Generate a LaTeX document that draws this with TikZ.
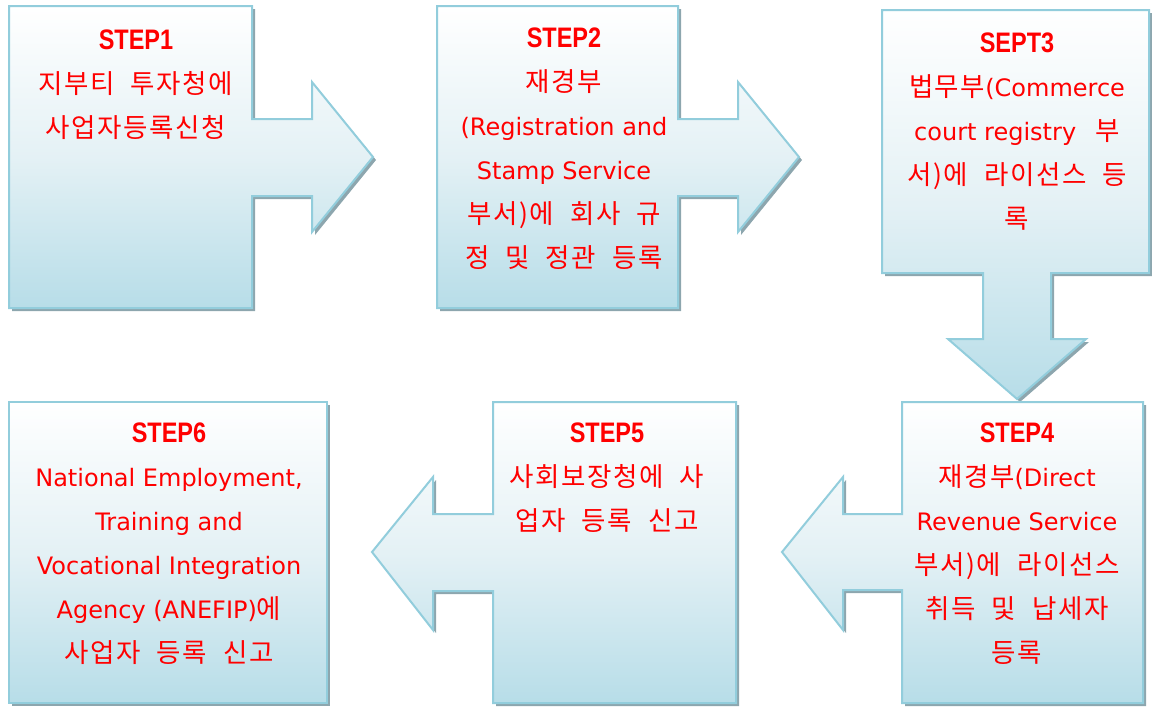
\documentclass[tikz,border=0pt]{standalone}
\usepackage{fontspec}
\setmainfont{DejaVu Sans}
\newfontfamily\krfont[LetterSpace=6]{Noto Sans CJK KR}
\newfontfamily\titlefam{Liberation Sans}
\definecolor{sbot}{HTML}{B7DDE8}
\definecolor{smid}{HTML}{E4F1F5}
\definecolor{bordc}{HTML}{92CDDC}
\definecolor{shadc}{HTML}{8DA6AE}
\newcommand\kr{\krfont\fontsize{26.5}{44}\selectfont\spaceskip=0.6em\relax}
\newcommand\ttl[1]{{\titlefam\bfseries\fontsize{23.5}{44}\selectfont\scalebox{1}[1.2]{#1}}}
\tikzset{
  stepshape/.style={draw=bordc, line width=2pt, top color=white, bottom color=sbot, middle color=smid, line join=miter},
  shadowshape/.style={fill=shadc, draw=none},
  steptext/.style={anchor=north, inner sep=0pt, align=center, text=red, font=\fontsize{24}{44}\selectfont},
}
\begin{document}
\begin{tikzpicture}[x=1pt,y=-1pt]
\useasboundingbox (0,0) rectangle (1152,707);
% shadows
\begin{scope}[shift={(3,3)}]
\fill[shadowshape] (9,6) -- (252,6) -- (252,119) -- (312,119) -- (312,82) -- (373,157) -- (312,232) -- (312,196) -- (252,196) -- (252,308) -- (9,308) -- cycle;
\fill[shadowshape] (437,6) -- (678,6) -- (678,119) -- (738,119) -- (738,82) -- (799,157) -- (738,232) -- (738,196) -- (678,196) -- (678,308) -- (437,308) -- cycle;
\fill[shadowshape] (882,10) -- (1149,10) -- (1149,273) -- (1051,273) -- (1051,339) -- (1086,339) -- (1017,399) -- (948,339) -- (983,339) -- (983,273) -- (882,273) -- cycle;
\fill[shadowshape] (902,402) -- (1143,402) -- (1143,703) -- (902,703) -- (902,590) -- (843,590) -- (843,630) -- (782,552) -- (843,477) -- (843,514) -- (902,514) -- cycle;
\fill[shadowshape] (493,402) -- (736,402) -- (736,703) -- (493,703) -- (493,591) -- (433,591) -- (433,630) -- (372,552) -- (433,477) -- (433,514) -- (493,514) -- cycle;
\fill[shadowshape] (9,402) rectangle (327,703);
\end{scope}
% shapes
\draw[stepshape] (9,6) -- (252,6) -- (252,119) -- (312,119) -- (312,82) -- (373,157) -- (312,232) -- (312,196) -- (252,196) -- (252,308) -- (9,308) -- cycle;
\draw[stepshape] (437,6) -- (678,6) -- (678,119) -- (738,119) -- (738,82) -- (799,157) -- (738,232) -- (738,196) -- (678,196) -- (678,308) -- (437,308) -- cycle;
\draw[stepshape] (882,10) -- (1149,10) -- (1149,273) -- (1051,273) -- (1051,339) -- (1086,339) -- (1017,399) -- (948,339) -- (983,339) -- (983,273) -- (882,273) -- cycle;
\draw[stepshape] (902,402) -- (1143,402) -- (1143,703) -- (902,703) -- (902,590) -- (843,590) -- (843,630) -- (782,552) -- (843,477) -- (843,514) -- (902,514) -- cycle;
\draw[stepshape] (493,402) -- (736,402) -- (736,703) -- (493,703) -- (493,591) -- (433,591) -- (433,630) -- (372,552) -- (433,477) -- (433,514) -- (493,514) -- cycle;
\draw[stepshape] (9,402) rectangle (327,703);
% texts
\node[steptext] (t1) at (136,30) {\ttl{STEP1}\\{\kr 지부티 투자청에}\\{\kr 사업자등록신청}};
\node[steptext] (t2) at (564,28) {\ttl{STEP2}\\{\kr 재경부}\\(Registration and\\Stamp Service\\{\kr 부서)에 회사 규}\\{\kr 정 및 정관 등록}};
\node[steptext] (t3) at (1017,33) {\ttl{SEPT3}\\{\kr 법무부}(Commerce\\court registry\hspace{0.8em}{\kr 부}\\{\kr 서)에 라이선스 등}\\{\kr 록}};
\node[steptext] (t4) at (1017,423) {\ttl{STEP4}\\{\kr 재경부}(Direct\\Revenue Service\\{\kr 부서)에 라이선스}\\{\kr 취득 및 납세자}\\{\kr 등록}};
\node[steptext] (t5) at (607,423) {\ttl{STEP5}\\{\kr 사회보장청에 사}\\{\kr 업자 등록 신고}};
\node[steptext] (t6) at (169,423) {\ttl{STEP6}\\National Employment,\\Training and\\Vocational Integration\\Agency (ANEFIP){\kr 에}\\{\kr 사업자 등록 신고}};
\end{tikzpicture}
\end{document}
